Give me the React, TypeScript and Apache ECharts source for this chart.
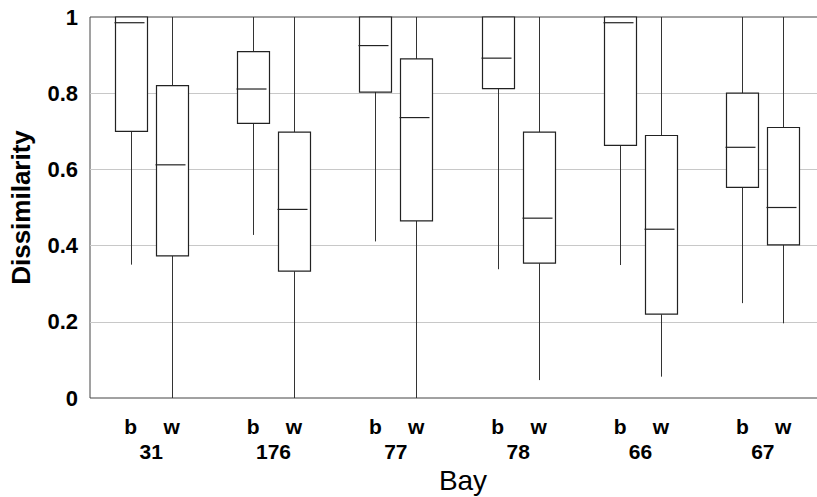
import React, { useEffect, useRef } from "react";
import * as echarts from "echarts";

// Bays along the x axis, each with two samples ("b" and "w")
const bays = ["31", "176", "77", "78", "66", "67"];
const seasons = ["b", "w"];

// Box summaries per bay: [min, Q1, median, Q3, max]
const bValues = [
  [0.35, 0.7, 0.985, 1, 1],
  [0.428, 0.721, 0.811, 0.909, 1],
  [0.411, 0.803, 0.925, 1, 1],
  [0.338, 0.812, 0.892, 1, 1],
  [0.349, 0.663, 0.985, 1, 1],
  [0.249, 0.553, 0.658, 0.8, 1],
];
const wValues = [
  [0, 0.373, 0.612, 0.82, 1],
  [0, 0.333, 0.495, 0.698, 1],
  [0, 0.465, 0.736, 0.89, 1],
  [0.047, 0.354, 0.472, 0.698, 1],
  [0.056, 0.22, 0.443, 0.689, 1],
  [0.196, 0.402, 0.5, 0.71, 1],
];

const yTickLabels = ["0", "0.2", "0.4", "0.6", "0.8", "1"];

const FONT = 'Arial, "Liberation Sans", sans-serif';

export default function App() {
  const ref = useRef<HTMLDivElement>(null);

  useEffect(() => {
    if (!ref.current) return;
    const chart = echarts.init(ref.current, undefined, { renderer: "svg" });

    // slot 3i+1 holds "b", slot 3i+2 holds "w"; slot 3i is spacing
    const boxData: number[][] = [];
    bays.forEach((_, i) => {
      boxData.push([3 * i + 1, ...bValues[i]]);
      boxData.push([3 * i + 2, ...wValues[i]]);
    });

    const halfBox = 16;

    chart.setOption({
      animation: false,
      backgroundColor: "#fff",
      grid: {
        left: 90,
        top: 17,
        width: 734,
        height: 381,
        show: true,
        borderColor: "#444",
        borderWidth: 1,
        backgroundColor: "transparent",
        outerBoundsMode: "none",
        containLabel: false,
      },
      xAxis: [
        {
          type: "value",
          min: 0,
          max: 18,
          interval: 1,
          position: "bottom",
          axisLine: { show: false },
          axisTick: { show: false },
          splitLine: { show: false },
          axisLabel: {
            margin: 18,
            color: "#000",
            fontFamily: FONT,
            fontWeight: "bold",
            fontSize: 21,
            showMinLabel: true,
            showMaxLabel: true,
            formatter: (v: number) => {
              const r = Math.round(v) % 3;
              return r === 1 ? seasons[0] : r === 2 ? seasons[1] : "";
            },
          },
        },
        {
          type: "value",
          min: 0,
          max: 18,
          interval: 1.5,
          position: "bottom",
          axisLine: { show: false },
          axisTick: { show: false },
          splitLine: { show: false },
          name: "Bay",
          nameLocation: "middle",
          nameGap: 68,
          nameTextStyle: {
            color: "#000",
            fontFamily: FONT,
            fontSize: 28,
            fontWeight: "normal",
            padding: [0, 0, 0, 12],
          },
          axisLabel: {
            margin: 43,
            color: "#000",
            fontFamily: FONT,
            fontWeight: "bold",
            fontSize: 21,
            formatter: (v: number) => {
              const k = (v - 1.5) / 3;
              const ki = Math.round(k);
              if (Math.abs(k - ki) > 1e-6 || ki < 0 || ki >= bays.length) return "";
              return bays[ki];
            },
          },
        },
      ],
      yAxis: {
        type: "value",
        min: 0,
        max: 1,
        interval: 0.2,
        name: "Dissimilarity",
        nameLocation: "middle",
        nameGap: 56,
        nameTextStyle: {
          color: "#000",
          fontFamily: FONT,
          fontSize: 26,
          fontWeight: "bold",
        },
        axisLine: { show: false },
        axisTick: { show: false },
        splitLine: {
          show: true,
          showMinLine: false,
          showMaxLine: false,
          lineStyle: { color: "#c8c8c8", width: 1 },
        },
        axisLabel: {
          margin: 12,
          color: "#000",
          fontFamily: FONT,
          fontWeight: "bold",
          fontSize: 22,
          formatter: (v: number) => yTickLabels[Math.round(v * 5)] ?? "",
        },
      },
      series: [
        {
          type: "custom",
          xAxisIndex: 0,
          yAxisIndex: 0,
          clip: false,
          encode: { x: 0, y: [1, 2, 3, 4, 5] },
          data: boxData,
          renderItem: (_params: any, api: any) => {
            const x = api.value(0);
            const lo = api.coord([x, api.value(1)]);
            const q1 = api.coord([x, api.value(2)]);
            const med = api.coord([x, api.value(3)]);
            const q3 = api.coord([x, api.value(4)]);
            const hi = api.coord([x, api.value(5)]);
            const cx = Math.round(lo[0]) + 0.5;
            const whisker = { stroke: "#333", lineWidth: 1 };
            return {
              type: "group",
              children: [
                {
                  type: "line",
                  shape: { x1: cx, y1: hi[1], x2: cx, y2: q3[1] },
                  style: whisker,
                },
                {
                  type: "line",
                  shape: { x1: cx, y1: q1[1], x2: cx, y2: lo[1] },
                  style: whisker,
                },
                {
                  type: "rect",
                  shape: {
                    x: cx - halfBox,
                    y: q3[1],
                    width: halfBox * 2,
                    height: q1[1] - q3[1],
                  },
                  style: { fill: "#fff", stroke: "#222", lineWidth: 1.2 },
                },
                {
                  type: "line",
                  shape: {
                    x1: cx - halfBox - 1,
                    y1: med[1],
                    x2: cx + halfBox - 3,
                    y2: med[1],
                  },
                  style: { stroke: "#222", lineWidth: 1.2 },
                },
              ],
            };
          },
        },
      ],
    });

    return () => chart.dispose();
  }, []);

  return (
    <div
      ref={ref}
      style={{ position: "absolute", left: 0, top: 0, width: 817, height: 497 }}
    />
  );
}
